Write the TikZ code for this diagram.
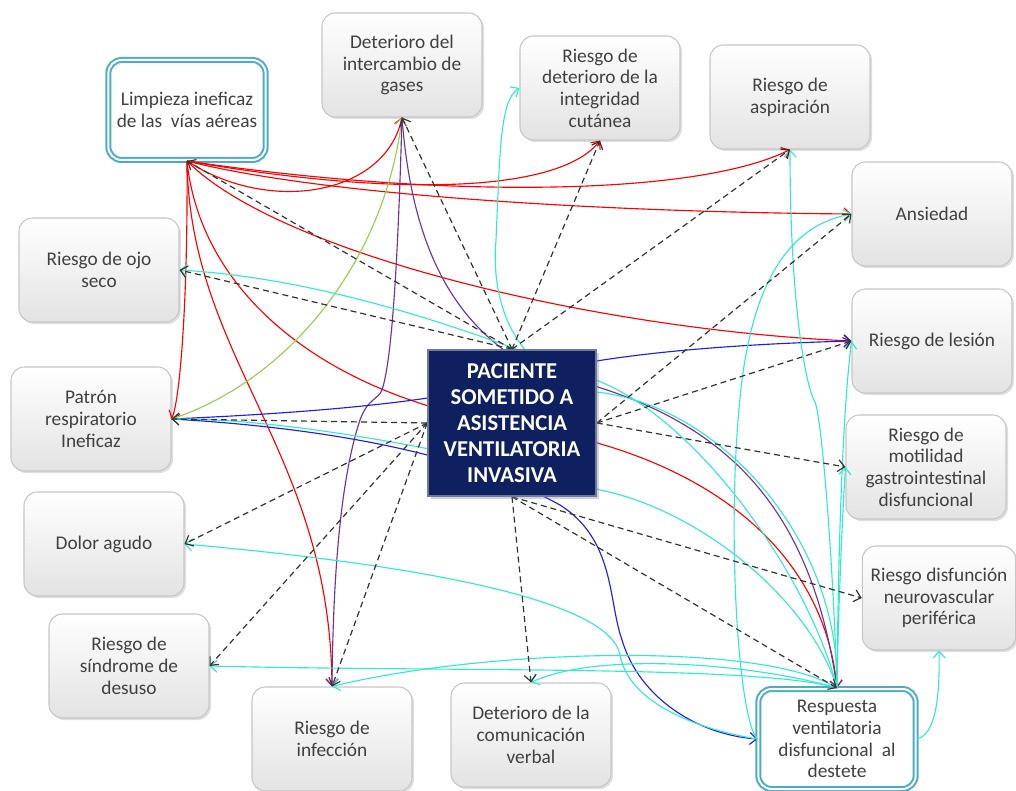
\documentclass[tikz,border=0pt]{standalone}
\usepackage{fontspec}
\setmainfont{Carlito}
\usetikzlibrary{arrows.meta,shadows}
\definecolor{txt}{RGB}{64,64,64}
\definecolor{bluebd}{RGB}{75,172,198}
\definecolor{navy}{RGB}{14,32,96}
\definecolor{cy}{RGB}{51,235,204}
\definecolor{pu}{RGB}{112,48,160}
\definecolor{bl}{RGB}{30,30,230}
\definecolor{gr}{RGB}{146,208,80}
\definecolor{rd}{RGB}{255,0,0}
\pgfdeclarelayer{fg}
\pgfsetlayers{main,fg}
\begin{document}
\begin{tikzpicture}[x=0.75pt,y=-0.75pt,
  box/.style={draw=gray!45, line width=0.8pt, rounded corners=10pt,
    top color=white, bottom color=gray!22, minimum width=120pt, minimum height=78pt,
    align=center, text=txt, font=\fontsize{14.5}{16.3}\selectfont, inner sep=2pt,
    drop shadow={opacity=0.25, shadow xshift=1.5pt, shadow yshift=-1.5pt}},
  hbox/.style={draw=bluebd, double=white, double distance=1.5pt, line width=1.5pt,
    rounded corners=10pt, fill=white, minimum width=118pt, minimum height=75pt,
    align=center, text=txt, font=\fontsize{14.5}{16.3}\selectfont, inner sep=2pt},
  ctr/.style={fill=navy, draw=navy!60!white, line width=1.2pt,
    minimum width=126pt, minimum height=109.5pt, text=white, align=center,
    font=\bfseries\fontsize{17}{19.5}\selectfont,
    drop shadow={opacity=0.35, shadow xshift=2pt, shadow yshift=-2pt}},
  arr/.style={-{Straight Barb[length=5pt,width=9pt]}},
  ln/.style={line width=0.85pt, arr},
  rl/.style={ln, draw=rd},
  cl/.style={ln, draw=cy},
  pl/.style={ln, draw=pu},
  bll/.style={ln, draw=bl},
  gl/.style={ln, draw=gr},
  dl/.style={line width=0.9pt, draw=black!80, dash pattern=on 4.5pt off 3pt, arr}
]
\useasboundingbox (0,0) rectangle (1016,791);

\node[box] (G) at (402,65) {Deterioro del\\intercambio de\\gases};
\node[box] (C) at (600,88) {Riesgo de\\deterioro de la\\integridad\\cutánea};
\node[box] (A) at (790,97) {Riesgo de\\aspiración};
\node[box] (Ans) at (932,214) {Ansiedad};
\node[box] (O) at (99,270) {Riesgo de ojo\\seco};
\node[box] (Le) at (932,341) {Riesgo de lesión};
\node[box] (P) at (91,419) {Patrón\\respiratorio\\Ineficaz};
\node[box] (M) at (926,467) {Riesgo de\\motilidad\\gastrointestinal\\disfuncional};
\node[box] (D) at (104,544) {Dolor agudo};
\node[box, minimum width=115pt] (N) at (939,598) {Riesgo disfunción\\neurovascular\\periférica};
\node[box] (S) at (129,666) {Riesgo de\\síndrome de\\desuso};
\node[box] (I) at (332,739) {Riesgo de\\infección};
\node[box] (V) at (531,735) {Deterioro de la\\comunicación\\verbal};
\node[hbox] (L) at (187,110) {Limpieza ineficaz\\de las~ vías aéreas};
\node[hbox] (R) at (837,739) {Respuesta\\ventilatoria\\disfuncional~ al\\destete};

\begin{pgfonlayer}{fg}
\node[ctr] (K) at (512,423) {PACIENTE\\SOMETIDO A\\ASISTENCIA\\VENTILATORIA\\INVASIVA};
\end{pgfonlayer}

% red from L
\draw[rl] (L.south) .. controls (270,215) and (385,195) .. (G.south);
\draw[rl] (L.south) .. controls (400,198) and (560,192) .. (C.south);
\draw[rl] (L.south) .. controls (450,200) and (700,195) .. (A.south);
\draw[rl] (L.south) .. controls (320,195) and (600,212) .. (Ans.west);
\draw[rl] (L.south) .. controls (280,255) and (600,330) .. (Le.west);
\draw[rl] (L.south) .. controls (200,290) and (320,395) .. (512,425) .. controls (720,455) and (825,560) .. (R.north);
\draw[rl] (L.south) .. controls (190,360) and (330,450) .. (I.north);
\draw[rl] (L.south) .. controls (188,300) and (180,400) .. (P.east);

% green
\draw[gl] (P.east) .. controls (290,380) and (385,260) .. (G.south);

% purple
\draw[pl] (G.south) .. controls (398,260) and (392,360) .. (382,390) .. controls (378,400) and (368,398) .. (360,420) .. controls (340,480) and (333,580) .. (I.north);
\draw[pl] (G.south) .. controls (412,250) and (455,330) .. (540,372) .. controls (720,410) and (810,500) .. (R.north);

% blue
\draw[bll] (P.east) .. controls (330,412) and (450,400) .. (512,380) .. controls (580,358) and (700,345) .. (Le.west);
\draw[bll] (P.east) .. controls (330,428) and (470,455) .. (560,505) .. controls (615,540) and (608,600) .. (622,640) .. controls (640,700) and (700,735) .. (R.west);

% cyan from R
\draw[cl] (R.north) .. controls (833,560) and (822,420) .. (815,402) .. controls (805,385) and (790,300) .. (A.south);
\draw[cl] (R.west) .. controls (738,720) and (725,520) .. (742,380) .. controls (755,280) and (790,225) .. (Ans.west);
\draw[cl] (R.north) .. controls (838,560) and (842,420) .. (Le.west);
\draw[cl] (R.north) .. controls (838,620) and (842,520) .. (M.west);
\draw[cl] (R.north) .. controls (810,580) and (700,420) .. (596,380) .. controls (520,350) and (350,280) .. (O.east);
\draw[cl] (R.north) .. controls (840,540) and (720,405) .. (596,392) .. controls (520,375) and (490,310) .. (496,240) .. controls (500,150) and (500,100) .. (C.west);
\draw[cl] (R.north) .. controls (810,600) and (700,510) .. (600,490) .. controls (500,460) and (300,418) .. (P.east);
\draw[cl] (R.west) .. controls (690,728) and (628,700) .. (620,655) .. controls (610,600) and (420,565) .. (D.east);
\draw[cl] (R.north) .. controls (760,665) and (450,672) .. (S.east);
\draw[cl] (R.north) .. controls (760,640) and (480,650) .. (I.north);
\draw[cl] (R.north) .. controls (760,665) and (600,650) .. (V.north);
\draw[cl] (R.east) .. controls (935,735) and (940,700) .. (N.south);

% dashed from center
\draw[dl] (K.north) -- (L.south);
\draw[dl] (K.north) -- (G.south);
\draw[dl] (K.north) -- (C.south);
\draw[dl] (K.north) -- (A.south);
\draw[dl] (K.north) -- (O.east);
\draw[dl] (K.east) -- (Ans.west);
\draw[dl] (K.east) -- (Le.west);
\draw[dl] (K.east) -- (M.west);
\draw[dl] (K.west) -- (P.east);
\draw[dl] (K.west) -- (D.east);
\draw[dl] (K.west) -- (S.east);
\draw[dl] (K.west) -- (I.north);
\draw[dl] (K.south) -- (V.north);
\draw[dl] (K.south) -- (N.west);
\draw[dl] (K.south) -- (R.north);
\end{tikzpicture}
\end{document}
